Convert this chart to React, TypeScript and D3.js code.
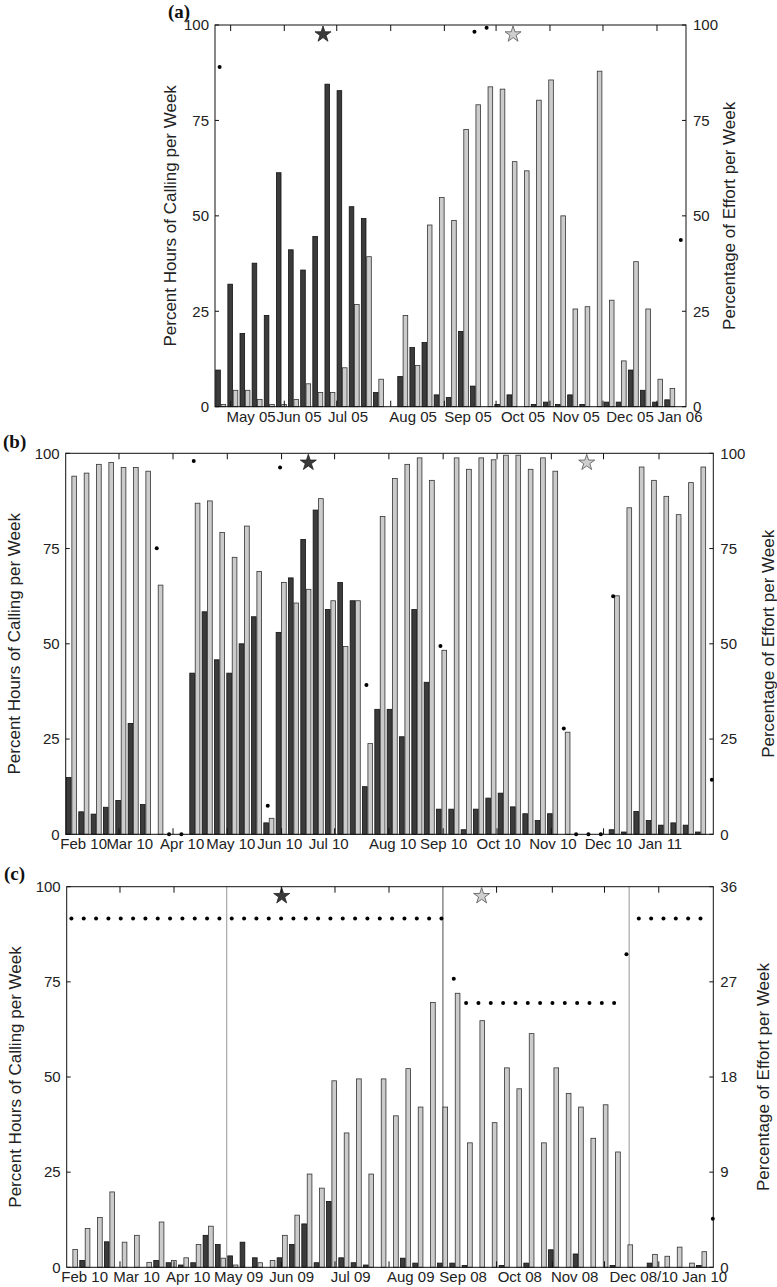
import React from 'react';
import * as d3 from 'd3';

// ---------- Panel (a) data ----------
const darkA = [9.6, 32.1, 19.2, 37.6, 23.9, 61.3, 41.1, 35.8, 44.6, 84.5, 82.8, 52.4, 49.3, 3.7, 0, 7.9, 15.5, 16.8, 3.1, 2.4, 19.7, 5.4, 0, 0.6, 3.1, 0, 0.6, 1.2, 0.6, 3.1, 0.6, 0, 1.2, 1.2, 9.6, 4.3, 1.2, 1.8, 0];
const lightA = [0.6, 4.3, 4.3, 1.9, 0.6, 0.6, 1.9, 6, 3.7, 3.7, 10.2, 26.8, 39.3, 7.2, 0, 23.9, 10.8, 47.6, 54.8, 48.8, 72.6, 79.1, 83.8, 83.2, 64.2, 61.8, 80.3, 85.6, 50, 25.6, 26.2, 87.9, 27.9, 12, 38, 25.6, 7.2, 4.8, 0];
const effortA: (number | null)[] = [89, null, null, null, null, null, null, null, null, null, null, null, null, null, null, null, null, null, null, null, null, 98.2, 99.3, null, null, null, null, null, null, null, null, null, null, null, null, null, null, null, 43.7];
const monthLabelsA = ['May 05', 'Jun 05', 'Jul 05', 'Aug 05', 'Sep 05', 'Oct 05', 'Nov 05', 'Dec 05', 'Jan 06'];
const monthLabelWeeksA = [2.97, 6.92, 10.96, 16.32, 20.85, 25.38, 29.75, 34.2, 38.32];
const tickWeeksA = [1.29, 5.71, 10.03, 14.48, 18.9, 23.16, 27.6, 31.97, 36.42];
const starsA = [{ week: 8.9, value: 97.8, kind: 'dark' }, { week: 24.56, value: 97.8, kind: 'light' }];

// ---------- Panel (b) data ----------
const darkB = [14.9, 5.9, 5.3, 7.1, 8.9, 29.1, 7.8, 0, 0, 0, 42.3, 58.4, 45.8, 42.3, 50, 57.1, 3, 53, 67.3, 77.4, 85.1, 59, 66.1, 61.3, 12.5, 32.8, 32.8, 25.6, 59, 39.9, 6.6, 6.6, 1.2, 6.6, 9.5, 10.8, 7.2, 5.4, 3.6, 5.4, 0, 0, 0, 0, 1.2, 0.6, 6, 3.6, 2.4, 3, 2.4, 0.6, 0];
const lightB = [94, 94.8, 97.1, 97.6, 96.3, 96.3, 95.3, 65.4, 0, 0, 86.9, 87.5, 79.2, 72.7, 80.9, 69, 4.2, 66.1, 60.7, 64.3, 88.1, 61.3, 49.3, 61.3, 23.8, 83.4, 93.4, 97.1, 98.8, 92.9, 48.3, 98.8, 95.8, 98.8, 98.3, 99.5, 99.5, 95.8, 98.8, 95.3, 26.8, 0, 0, 0, 62.6, 85.7, 96.4, 92.9, 88.7, 83.9, 92.3, 96.4, 0];
const effortB: (number | null)[] = [null, null, null, null, null, null, null, 75.1, 0, 0, 98, null, null, null, null, null, 7.5, 96.3, null, null, null, null, null, null, 39.2, null, null, null, null, null, 49.4, null, null, null, null, null, null, null, null, null, 27.8, 0, 0, 0, 62.5, null, null, null, null, null, null, null, 14.3];
const monthLabelsB = ['Feb 10', 'Mar 10', 'Apr 10', 'May 10', 'Jun 10', 'Jul 10', 'Aug 10', 'Sep 10', 'Oct 10', 'Nov 10', 'Dec 10', 'Jan 11'];
const monthLabelWeeksB = [1.46, 5.19, 9.44, 13.38, 17.35, 21.32, 26.51, 30.64, 35.1, 39.5, 44.0, 48.2];
const tickWeeksB = [4.32, 8.7, 13.1, 17.5, 21.8, 26.2, 30.6, 34.97, 39.37, 43.6, 48.1];
const starsB = [{ week: 19.67, value: 97.8, kind: 'dark' }, { week: 42.24, value: 97.8, kind: 'light' }];

// ---------- Panel (c) data ----------
const darkC = [0, 1.8, 0, 6.7, 0, 0, 0, 1.8, 1.2, 0.6, 1.2, 8.4, 6, 3, 6.6, 2.5, 0, 2.5, 6, 11.4, 1.2, 17.3, 2.5, 1.2, 0.6, 0, 0, 2.4, 1.1, 0, 1.1, 1.1, 0.5, 0, 0, 0.5, 0, 1.1, 0, 4.6, 0, 3.5, 0, 0, 0.5, 0, 0, 1.1, 0, 0, 0, 0.5, 0];
const lightC = [4.7, 10.2, 13.1, 19.8, 6.6, 8.4, 1.3, 11.9, 1.8, 2.5, 6, 10.8, 2.4, 0.6, 0, 1.2, 1.8, 8.4, 13.7, 24.5, 20.8, 49, 35.3, 49.5, 24.5, 49.5, 39.8, 52.2, 42.1, 69.6, 42.1, 72, 32.7, 64.8, 38, 52.4, 46.9, 61.4, 32.7, 52.4, 45.7, 42.1, 33.9, 42.7, 30.3, 5.9, 0, 3.4, 2.9, 5.3, 1.1, 4.1, 0];
const effortC: (number | null)[] = [33, 33, 33, 33, 33, 33, 33, 33, 33, 33, 33, 33, 33, 33, 33, 33, 33, 33, 33, 33, 33, 33, 33, 33, 33, 33, 33, 33, 33, 33, 33, 27.3, 25, 25, 25, 25, 25, 25, 25, 25, 25, 25, 25, 25, 25, 29.6, 33, 33, 33, 33, 33, 33, 4.6];
const monthLabelsC = ['Feb 10', 'Mar 10', 'Apr 10', 'May 09', 'Jun 09', 'Jul 09', 'Aug 09', 'Sep 08', 'Oct 08', 'Nov 08', 'Dec 08/10', 'Jan 10'];
const monthLabelWeeksC = [1.46, 5.67, 9.85, 13.94, 18.24, 23.02, 27.89, 32.14, 36.73, 41.18, 46.78, 51.72];
const tickWeeksC = [4.32, 8.7, 17.4, 21.75, 26.13, 34.85, 39.37, 43.6, 48.0];
const dividerWeeksC = [12.97, 30.5, 45.6];
const dividerKindsC = ['light', 'dark', 'light'];
const starsC = [{ week: 17.43, value: 97.8, kind: 'dark' }, { week: 33.64, value: 97.8, kind: 'light' }];

const leftTicks = [0, 25, 50, 75, 100];
const rightTicksAB = [0, 25, 50, 75, 100];
const rightTicksC = [0, 9, 18, 27, 36];

const FONT = "'Liberation Sans', Arial, Helvetica, sans-serif";
const DARK = '#3b3b3b';
const LIGHT = '#cbcbcb';

type Star = { week: number; value: number; kind: string };
type PanelProps = {
  tag: string;
  tagX: number;
  tagY: number;
  left: number;
  right: number;
  top: number;
  bottom: number;
  weeks: number;
  dark: number[];
  light: number[];
  effort: (number | null)[];
  rightMax: number;
  rightTicks: number[];
  labels: string[];
  labelWeeks: number[];
  tickWeeks: number[];
  stars: Star[];
  dividers?: number[];
  dividerKinds?: string[];
  leftTitleX: number;
  rightTitleX: number;
};

function Panel(p: PanelProps) {
  const x = d3.scaleLinear().domain([0, p.weeks]).range([p.left, p.right]);
  const yL = d3.scaleLinear().domain([0, 100]).range([p.bottom, p.top]);
  const yR = d3.scaleLinear().domain([0, p.rightMax]).range([p.bottom, p.top]);
  const starPath = d3.symbol(d3.symbolStar, 80)() as string;
  const midY = (p.top + p.bottom) / 2;
  const tl = 6;
  return (
    <g>
      <text x={p.tagX} y={p.tagY} fontFamily="'Liberation Serif', 'Times New Roman', serif" fontWeight="bold" fontSize={19} fill="#111">{p.tag}</text>
      {p.dividers && p.dividers.map((w, i) => (
        <line key={'dv' + i} x1={x(w)} x2={x(w)} y1={p.top} y2={p.bottom} stroke={p.dividerKinds && p.dividerKinds[i] === 'dark' ? '#6a6a6a' : '#a8a8a8'} strokeWidth={1.2} />
      ))}
      {p.dark.map((v, i) => v > 0 ? (
        <rect key={'d' + i} x={x(i + 0.06)} width={x(i + 0.44) - x(i + 0.06)} y={yL(v)} height={yL(0) - yL(v)} fill={DARK} stroke="#111" strokeWidth={0.8} />
      ) : null)}
      {p.light.map((v, i) => v > 0 ? (
        <rect key={'l' + i} x={x(i + 0.5)} width={x(i + 0.88) - x(i + 0.5)} y={yL(v)} height={yL(0) - yL(v)} fill={LIGHT} stroke="#333" strokeWidth={0.8} />
      ) : null)}
      {p.effort.map((v, i) => v === null ? null : (
        <circle key={'e' + i} cx={x(i + 0.38)} cy={yR(v)} r={2} fill="#000" />
      ))}
      {p.stars.map((s, i) => (
        <path key={'s' + i} d={starPath} transform={`translate(${x(s.week)},${yL(s.value) + 1})`} fill={s.kind === 'dark' ? '#3a3a3a' : '#cfcfcf'} stroke={s.kind === 'dark' ? '#222' : '#555'} strokeWidth={0.8} />
      ))}
      <rect x={p.left} y={p.top} width={p.right - p.left} height={p.bottom - p.top} fill="none" stroke="#111" strokeWidth={1} />
      {p.tickWeeks.map((w, i) => (
        <g key={'t' + i}>
          <line x1={x(w)} x2={x(w)} y1={p.top} y2={p.top + tl} stroke="#111" strokeWidth={1} />
          <line x1={x(w)} x2={x(w)} y1={p.bottom} y2={p.bottom - tl} stroke="#111" strokeWidth={1} />
        </g>
      ))}
      {leftTicks.map((t, i) => (
        <g key={'yl' + i}>
          <line x1={p.left} x2={p.left + 4} y1={yL(t)} y2={yL(t)} stroke="#111" />
          <text x={p.left - 6} y={yL(t)} dy="0.35em" textAnchor="end" fontFamily={FONT} fontSize={15} fill="#222">{t}</text>
        </g>
      ))}
      {p.rightTicks.map((t, i) => (
        <g key={'yr' + i}>
          <line x1={p.right} x2={p.right - 4} y1={yR(t)} y2={yR(t)} stroke="#111" />
          <text x={p.right + 7} y={yR(t)} dy="0.35em" textAnchor="start" fontFamily={FONT} fontSize={15} fill="#222">{t}</text>
        </g>
      ))}
      {p.labels.map((lab, i) => (
        <text key={'m' + i} x={x(p.labelWeeks[i])} y={p.bottom + 15} textAnchor="middle" fontFamily={FONT} fontSize={15} fill="#222">{lab}</text>
      ))}
      <text transform={`translate(${p.leftTitleX},${midY}) rotate(-90)`} textAnchor="middle" dy="0.35em" fontFamily={FONT} fontSize={17} fill="#222">Percent Hours of Calling per Week</text>
      <text transform={`translate(${p.rightTitleX},${midY}) rotate(-90)`} textAnchor="middle" dy="0.35em" fontFamily={FONT} fontSize={17} fill="#222">Percentage of Effort per Week</text>
    </g>
  );
}

export default function App() {
  return (
    <svg width={777} height={1287} style={{ position: 'absolute', left: 0, top: 0, display: 'block', background: '#fff' }}>
      <rect x={0} y={0} width={777} height={1287} fill="#fff" />
      <Panel tag="(a)" tagX={168} tagY={18} left={215} right={686} top={25} bottom={406.7} weeks={38.81}
        dark={darkA} light={lightA} effort={effortA} rightMax={100} rightTicks={rightTicksAB}
        labels={monthLabelsA} labelWeeks={monthLabelWeeksA} tickWeeks={tickWeeksA} stars={starsA}
        leftTitleX={170} rightTitleX={729} />
      <Panel tag="(b)" tagX={3} tagY={448} left={65.7} right={713.3} top={453.3} bottom={834.3} weeks={52.5}
        dark={darkB} light={lightB} effort={effortB} rightMax={100} rightTicks={rightTicksAB}
        labels={monthLabelsB} labelWeeks={monthLabelWeeksB} tickWeeks={tickWeeksB} stars={starsB}
        leftTitleX={14} rightTitleX={768} />
      <Panel tag="(c)" tagX={4} tagY={880} left={66.7} right={713.3} top={886.7} bottom={1267.3} weeks={52.42}
        dark={darkC} light={lightC} effort={effortC} rightMax={36} rightTicks={rightTicksC}
        labels={monthLabelsC} labelWeeks={monthLabelWeeksC} tickWeeks={tickWeeksC} stars={starsC}
        dividers={dividerWeeksC} dividerKinds={dividerKindsC}
        leftTitleX={15} rightTitleX={763} />
    </svg>
  );
}
